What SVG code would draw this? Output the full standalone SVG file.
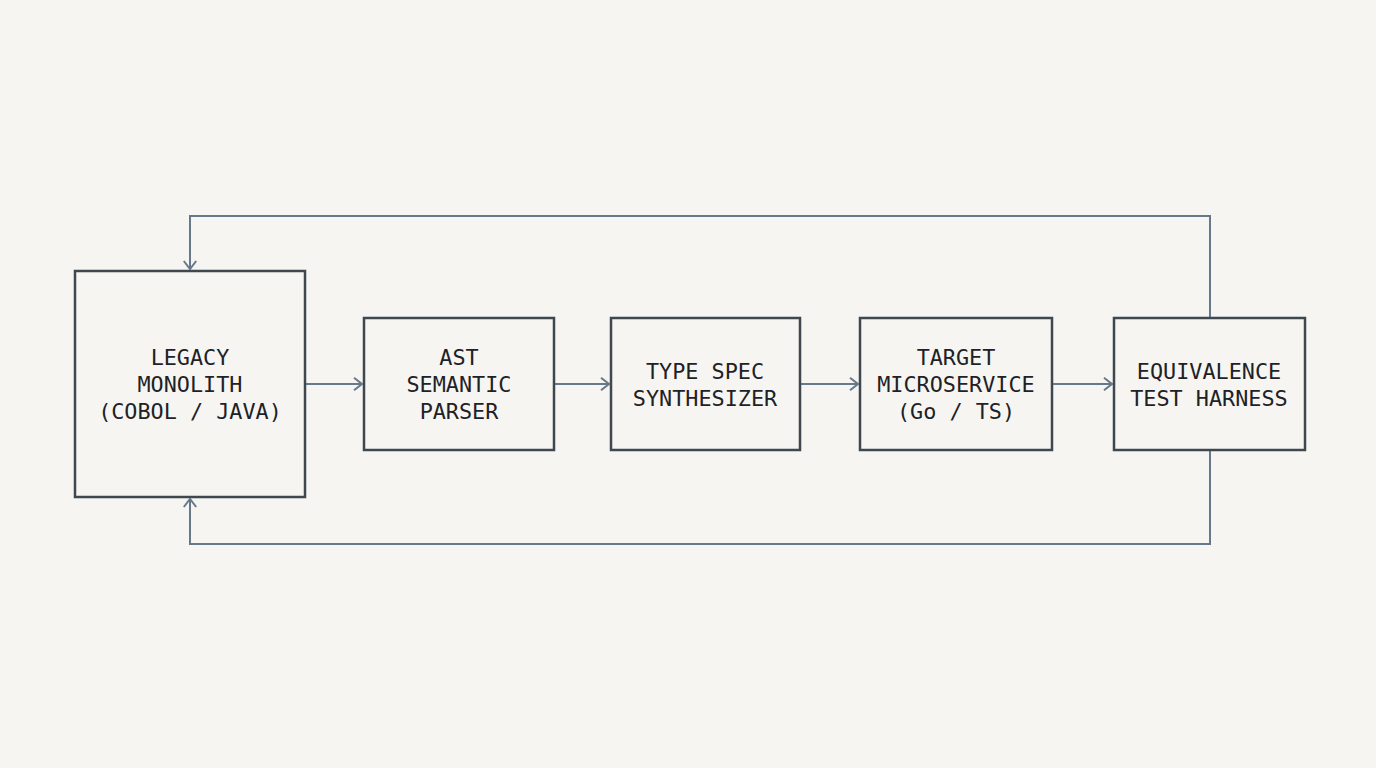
<svg xmlns="http://www.w3.org/2000/svg" width="1376" height="768" viewBox="0 0 1376 768">
<defs>
<marker id="arr" viewBox="0 0 14 14" refX="13" refY="7" markerWidth="14" markerHeight="14" markerUnits="userSpaceOnUse" orient="auto">
<path d="M5,0.8 L13,7 L5,13.2" fill="none" stroke="#66788a" stroke-width="2"/>
</marker>
<style>
.box{fill:#f6f5f2;stroke:#3f474f;stroke-width:2.5}
.lbl{font-family:"DejaVu Sans Mono","Liberation Mono",monospace;font-size:21.8px;fill:#1e2226;text-anchor:middle}
.con{fill:none;stroke:#66788a;stroke-width:2;marker-end:url(#arr)}
</style>
</defs>
<rect width="1376" height="768" fill="#f6f5f2"/>
<g id="connectors">
<path class="con" d="M306,384 H362"/>
<path class="con" d="M555,384 H609"/>
<path class="con" d="M801,384 H858"/>
<path class="con" d="M1053,384 H1112"/>
<path class="con" d="M1210,318 V216 H190 V269"/>
<path class="con" d="M1210,451 V544 H190 V499"/>
</g>
<g id="legacy">
<rect class="box" x="75" y="271" width="230" height="226"/>
<text class="lbl" x="190" y="365">LEGACY</text>
<text class="lbl" x="190" y="392">MONOLITH</text>
<text class="lbl" x="190" y="419">(COBOL / JAVA)</text>
</g>
<g id="ast">
<rect class="box" x="364" y="318" width="190" height="132"/>
<text class="lbl" x="459" y="365">AST</text>
<text class="lbl" x="459" y="392">SEMANTIC</text>
<text class="lbl" x="459" y="419">PARSER</text>
</g>
<g id="typespec">
<rect class="box" x="611" y="318" width="189" height="132"/>
<text class="lbl" x="705" y="379">TYPE SPEC</text>
<text class="lbl" x="705" y="406">SYNTHESIZER</text>
</g>
<g id="target">
<rect class="box" x="860" y="318" width="192" height="132"/>
<text class="lbl" x="956" y="365">TARGET</text>
<text class="lbl" x="956" y="392">MICROSERVICE</text>
<text class="lbl" x="956" y="419">(Go / TS)</text>
</g>
<g id="harness">
<rect class="box" x="1114" y="318" width="191" height="132"/>
<text class="lbl" x="1209" y="379">EQUIVALENCE</text>
<text class="lbl" x="1209" y="406">TEST HARNESS</text>
</g>
</svg>
